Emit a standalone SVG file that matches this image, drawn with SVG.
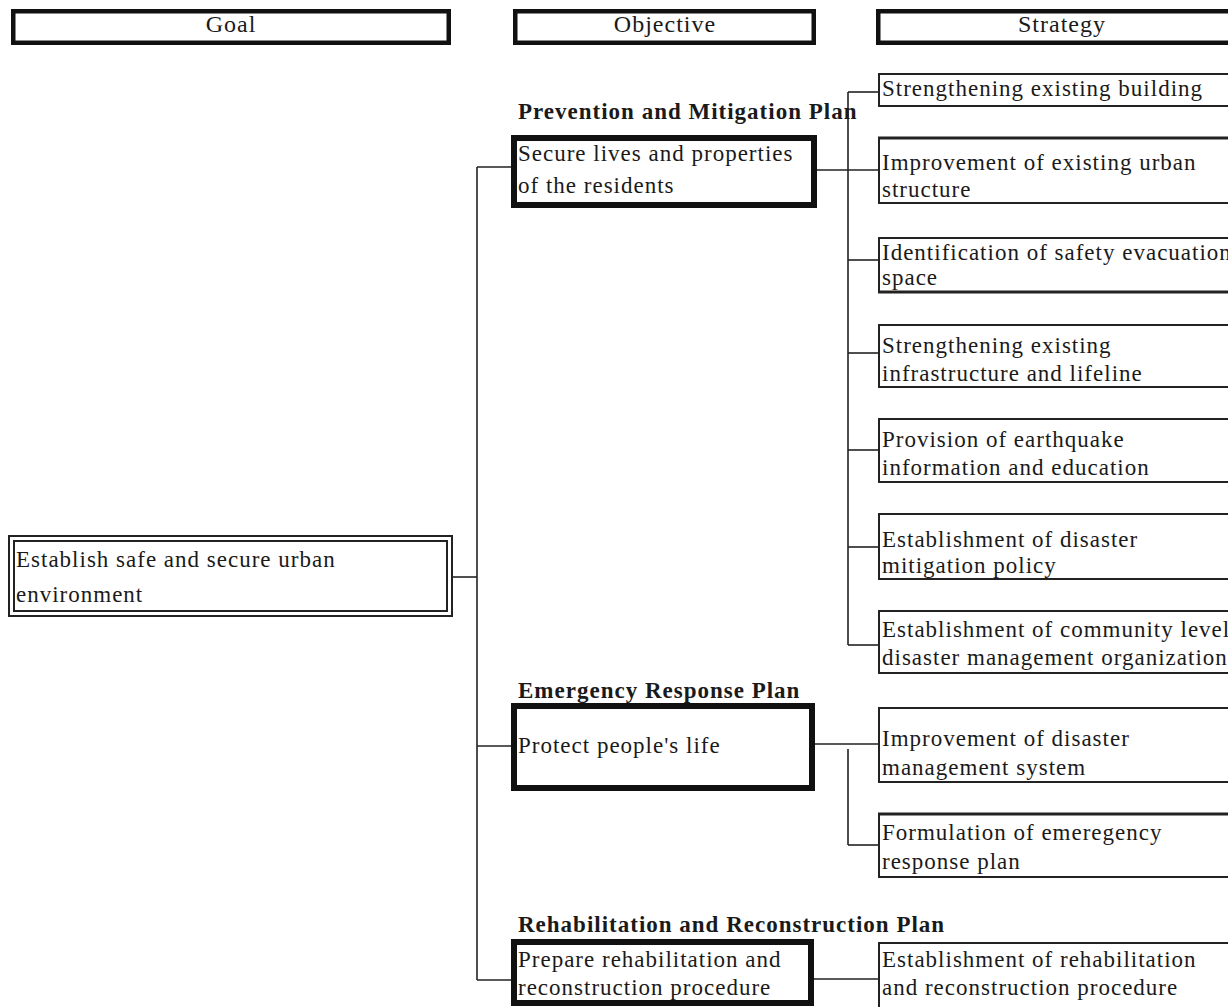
<svg xmlns="http://www.w3.org/2000/svg" width="1228" height="1007" viewBox="0 0 1228 1007">
  <style>
    text { font-family: "Liberation Serif", "Times New Roman", serif; font-size: 23px; letter-spacing: 1px; fill: #1a1a1a; }
    .head { font-size: 24px; text-anchor: middle; }
    .plan { font-weight: bold; }
    .hbox { fill: #fff; stroke: #111; stroke-width: 4.5; }
    .obj { fill: #fff; stroke: #111; stroke-width: 6; }
    .str { fill: #fff; stroke: #222; stroke-width: 2; }
    .edge { stroke: #222; stroke-width: 3; }
    .goal { fill: #fff; stroke: #222; stroke-width: 2; }
    .conn line { stroke: #222; stroke-width: 1.6; fill: none; }
  </style>

  <rect width="1228" height="1007" fill="#fff"/>

  <!-- column headers -->
  <g id="header-goal">
    <rect class="hbox" x="13.25" y="11.25" width="435.5" height="31.5"/>
    <text class="head" x="231" y="32">Goal</text>
  </g>
  <g id="header-objective">
    <rect class="hbox" x="515.25" y="11.25" width="298.5" height="31.5"/>
    <text class="head" x="665" y="32">Objective</text>
  </g>
  <g id="header-strategy">
    <rect class="hbox" x="878.25" y="11.25" width="370" height="31.5"/>
    <text class="head" x="1062" y="32">Strategy</text>
  </g>

  <!-- connectors -->
  <g id="connectors" class="conn">
    <line x1="452" y1="577" x2="477" y2="577"/>
    <line x1="477" y1="167" x2="477" y2="980"/>
    <line x1="477" y1="167" x2="511" y2="167"/>
    <line x1="477" y1="746" x2="511" y2="746"/>
    <line x1="477" y1="980" x2="511" y2="980"/>

    <line x1="817" y1="170" x2="878" y2="170"/>
    <line x1="848" y1="92" x2="848" y2="645"/>
    <line x1="848" y1="92" x2="878" y2="92"/>
    <line x1="848" y1="260" x2="878" y2="260"/>
    <line x1="848" y1="353" x2="878" y2="353"/>
    <line x1="848" y1="450" x2="878" y2="450"/>
    <line x1="848" y1="547" x2="878" y2="547"/>
    <line x1="848" y1="645" x2="878" y2="645"/>

    <line x1="815" y1="744" x2="878" y2="744"/>
    <line x1="848" y1="749" x2="848" y2="845"/>
    <line x1="848" y1="845" x2="878" y2="845"/>

    <line x1="814" y1="979" x2="878" y2="979"/>
  </g>

  <!-- goal -->
  <g id="goal">
    <rect class="goal" x="9" y="536" width="443" height="80"/>
    <rect class="goal" x="14" y="541" width="433" height="70" stroke-width="2.5"/>
    <text x="16" y="567">Establish safe and secure urban</text>
    <text x="16" y="602">environment</text>
  </g>

  <!-- objectives -->
  <g id="objective-prevention">
    <text class="plan" x="518" y="119">Prevention and Mitigation Plan</text>
    <rect class="obj" x="514" y="138" width="300" height="67"/>
    <text x="518" y="161">Secure lives and properties</text>
    <text x="518" y="193">of the residents</text>
  </g>
  <g id="objective-emergency">
    <text class="plan" x="518" y="698">Emergency Response Plan</text>
    <rect class="obj" x="514" y="706" width="298" height="82"/>
    <text x="518" y="753">Protect people's life</text>
  </g>
  <g id="objective-rehabilitation">
    <text class="plan" x="518" y="932">Rehabilitation and Reconstruction Plan</text>
    <rect class="obj" x="514" y="942" width="297" height="61"/>
    <text x="518" y="967">Prepare rehabilitation and</text>
    <text x="518" y="995">reconstruction procedure</text>
  </g>

  <!-- strategies -->
  <g id="strategy-1">
    <rect class="str" x="879" y="74" width="370" height="32"/>
    <text x="882" y="96">Strengthening existing building</text>
  </g>
  <g id="strategy-2">
    <rect class="str" x="879" y="138" width="370" height="65"/>
    <line class="edge" x1="878" y1="138" x2="1228" y2="138"/>
    <text x="882" y="170">Improvement of existing urban</text>
    <text x="882" y="197">structure</text>
  </g>
  <g id="strategy-3">
    <rect class="str" x="879" y="238" width="370" height="54"/>
    <line class="edge" x1="878" y1="292" x2="1228" y2="292"/>
    <text x="882" y="260">Identification of safety evacuation</text>
    <text x="882" y="285">space</text>
  </g>
  <g id="strategy-4">
    <rect class="str" x="879" y="325" width="370" height="62"/>
    <text x="882" y="353">Strengthening existing</text>
    <text x="882" y="381">infrastructure and lifeline</text>
  </g>
  <g id="strategy-5">
    <rect class="str" x="879" y="419" width="370" height="63"/>
    <text x="882" y="447">Provision of earthquake</text>
    <text x="882" y="475">information and education</text>
  </g>
  <g id="strategy-6">
    <rect class="str" x="879" y="514" width="370" height="65"/>
    <text x="882" y="547">Establishment of disaster</text>
    <text x="882" y="573">mitigation policy</text>
  </g>
  <g id="strategy-7">
    <rect class="str" x="879" y="611" width="370" height="62"/>
    <text x="882" y="637">Establishment of community level</text>
    <text x="882" y="665">disaster management organization</text>
  </g>
  <g id="strategy-8">
    <rect class="str" x="879" y="708" width="370" height="74"/>
    <text x="882" y="746">Improvement of disaster</text>
    <text x="882" y="775">management system</text>
  </g>
  <g id="strategy-9">
    <rect class="str" x="879" y="814" width="370" height="63"/>
    <line class="edge" x1="878" y1="814" x2="1228" y2="814"/>
    <text x="882" y="840">Formulation of emeregency</text>
    <text x="882" y="869">response plan</text>
  </g>
  <g id="strategy-10">
    <rect class="str" x="879" y="943" width="370" height="80"/>
    <text x="882" y="967">Establishment of rehabilitation</text>
    <text x="882" y="995">and reconstruction procedure</text>
  </g>
</svg>
